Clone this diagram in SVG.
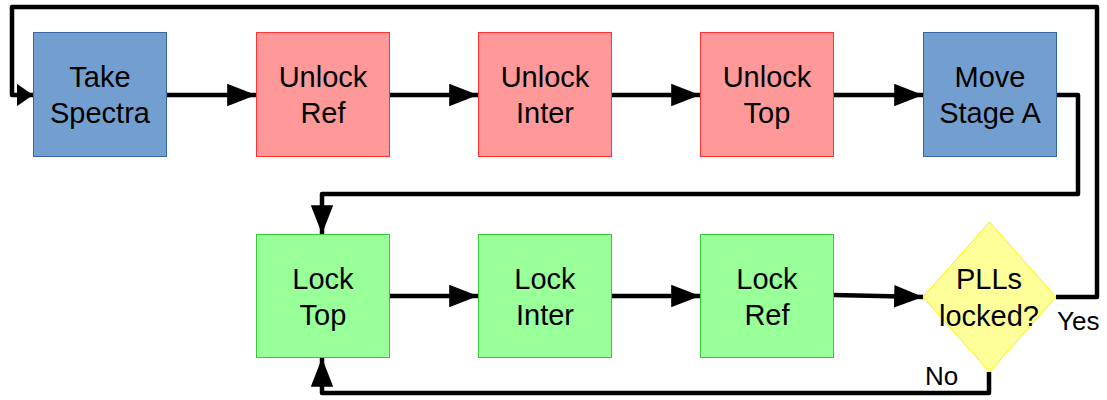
<svg xmlns="http://www.w3.org/2000/svg" width="1107" height="400" viewBox="0 0 1107 400">
<defs>
<marker id="ah" viewBox="0 0 6.4 5" refX="6.4" refY="2.5" markerWidth="6.4" markerHeight="5" markerUnits="strokeWidth" orient="auto">
<path d="M0,0 L6.4,2.5 L0,5 Z" fill="#000"/>
</marker>
<marker id="ahs" viewBox="0 0 3.6 5" refX="3.6" refY="2.5" markerWidth="3.6" markerHeight="5" markerUnits="strokeWidth" orient="auto">
<path d="M0,0 L3.6,2.5 L0,5 Z" fill="#000"/>
</marker>
<style>
.t{font-family:"Liberation Sans",Arial,sans-serif;font-size:29px;fill:#000;text-anchor:middle}
.l{font-family:"Liberation Sans",Arial,sans-serif;font-size:26px;fill:#000}
.blue{fill:#729fcf;stroke:#3465a4;stroke-width:1}
.red{fill:#ff9999;stroke:#ff3333;stroke-width:1}
.green{fill:#99ff99;stroke:#33cc33;stroke-width:1}
.yel{fill:#ffff99;stroke:#ffee00;stroke-width:1}
.c{fill:none;stroke:#000;stroke-width:4.5;stroke-linejoin:round}
</style>
</defs>
<rect width="1107" height="400" fill="#fff"/>
<g id="connectors">
<path class="c" d="M167,95 L256,95" marker-end="url(#ah)"/>
<path class="c" d="M390,95 L478,95" marker-end="url(#ah)"/>
<path class="c" d="M612,95 L700,95" marker-end="url(#ah)"/>
<path class="c" d="M834,95 L923,95" marker-end="url(#ah)"/>
<path class="c" d="M1057,95 L1078,95 L1078,194 L322,194 L322,234" marker-end="url(#ah)"/>
<path class="c" d="M389,296 L478,296" marker-end="url(#ah)"/>
<path class="c" d="M612,296 L700,296" marker-end="url(#ah)"/>
<path class="c" d="M834,295 L923,297" marker-end="url(#ah)"/>
<path class="c" d="M1056,297 L1097,297 L1097,7 L12,7 L12,95 L33,95" marker-end="url(#ahs)"/>
<path class="c" d="M989,372 L989,393 L322,393 L322,358" marker-end="url(#ah)"/>
</g>
<g id="take-spectra">
<rect class="blue" x="33.5" y="32.5" width="133" height="124"/>
<text class="t" x="100" y="87">Take</text>
<text class="t" x="100" y="123">Spectra</text>
</g>
<g id="unlock-ref">
<rect class="red" x="256.5" y="32.5" width="133" height="124"/>
<text class="t" x="323" y="87">Unlock</text>
<text class="t" x="323" y="123">Ref</text>
</g>
<g id="unlock-inter">
<rect class="red" x="478.5" y="32.5" width="133" height="124"/>
<text class="t" x="545" y="87">Unlock</text>
<text class="t" x="545" y="123">Inter</text>
</g>
<g id="unlock-top">
<rect class="red" x="700.5" y="32.5" width="133" height="124"/>
<text class="t" x="767" y="87">Unlock</text>
<text class="t" x="767" y="123">Top</text>
</g>
<g id="move-stage-a">
<rect class="blue" x="923.5" y="32.5" width="133" height="124"/>
<text class="t" x="990" y="87">Move</text>
<text class="t" x="990" y="123">Stage A</text>
</g>
<g id="lock-top">
<rect class="green" x="256.5" y="234.5" width="133" height="123"/>
<text class="t" x="323" y="289">Lock</text>
<text class="t" x="323" y="325">Top</text>
</g>
<g id="lock-inter">
<rect class="green" x="478.5" y="234.5" width="133" height="123"/>
<text class="t" x="545" y="289">Lock</text>
<text class="t" x="545" y="325">Inter</text>
</g>
<g id="lock-ref">
<rect class="green" x="700.5" y="234.5" width="133" height="123"/>
<text class="t" x="767" y="289">Lock</text>
<text class="t" x="767" y="325">Ref</text>
</g>
<g id="plls-locked">
<polygon class="yel" points="989.5,222 1056,297 989.5,372 923,297"/>
<text class="t" x="989" y="289">PLLs</text>
<text class="t" x="989" y="326">locked?</text>
</g>
<g id="labels">
<text class="l" x="1057" y="330">Yes</text>
<text class="l" x="925" y="385">No</text>
</g>
</svg>
